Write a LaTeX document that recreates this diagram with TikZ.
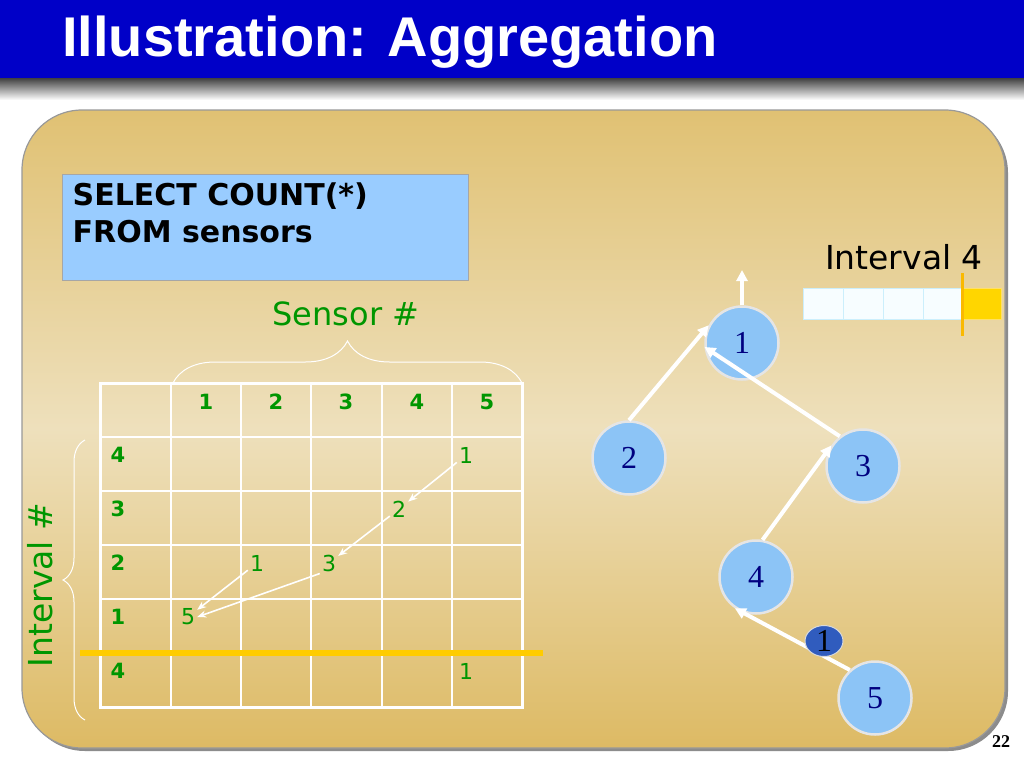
\documentclass[tikz,border=0pt]{standalone}
\usepackage{fontspec}
\usepackage{tikz}
\usetikzlibrary{arrows.meta, decorations.pathreplacing, shapes.geometric, calc}
\setmainfont{Liberation Serif}
\newfontfamily\headfont{Liberation Sans}
\newfontfamily\chalkfont{DejaVu Sans}
\definecolor{slideB}{RGB}{0,0,200}
\definecolor{slideG}{RGB}{0,150,0}
\definecolor{sqlB}{RGB}{153,204,255}
\definecolor{moteB}{RGB}{140,196,246}
\definecolor{moteT}{RGB}{0,0,128}
\definecolor{panelTop}{RGB}{224,193,115}
\definecolor{panelMid}{RGB}{238,224,188}
\definecolor{panelBot}{RGB}{221,186,100}
\definecolor{epochY}{RGB}{255,204,0}
\definecolor{epochO}{RGB}{250,185,0}
\definecolor{msgB}{RGB}{48,92,190}
\begin{document}
\begin{tikzpicture}[x=1pt, y=-1pt,
  gridline/.style={white, line width=1.4pt},
  gridouter/.style={white, line width=3pt},
  hdr/.style={slideG, font=\chalkfont\bfseries\fontsize{21}{21}\selectfont, inner sep=1pt},
  val/.style={slideG, font=\chalkfont\fontsize{22}{22}\selectfont, inner sep=2pt},
  pass/.style={-{Stealth[length=9pt, width=7pt]}, white, line width=1.6pt},
  mote/.style={circle, minimum size=73pt, inner sep=0pt, fill=moteB, draw=black!10,
    line width=2.5pt, text=moteT, font=\fontsize{32}{32}\selectfont},
  hop/.style={-{Triangle[length=11pt, width=11pt]}, white, line width=4pt},
  slot/.style={minimum width=40pt, minimum height=31pt, inner sep=0pt, fill=cyan!3,
    draw=cyan!20, line width=1pt}]
\useasboundingbox (0,0) rectangle (1024,768);
\fill[white] (0,0) rectangle (1024,768);
% title bar
\fill[slideB] (0,0) rectangle (1024,78);
\shade[top color=black!75, bottom color=white] (0,78) rectangle (1024,100);
\node[anchor=west, white, font=\headfont\bfseries\fontsize{56}{56}\selectfont, inner sep=0pt]
  (title) at (62,42) {Illustration: Aggregation};
% background panel
\fill[black!45, rounded corners=60pt] (25,113) rectangle (1008,751);
\shade[rounded corners=60pt, top color=panelTop, bottom color=panelBot, middle color=panelMid,
  draw=black!40, line width=1.2pt] (22,110) rectangle (1005,748);
% query box
\node[fill=sqlB, draw=black!35, line width=1pt, minimum width=406pt, minimum height=106pt,
  inner sep=0pt] (sql) at (265,227) {};
\node[anchor=north west, align=left, inner sep=0pt,
  font=\chalkfont\bfseries\fontsize{30}{37}\selectfont] (query) at ($(sql.north west)+(11,9)$)
  {SELECT COUNT(*)\\FROM sensors};
% table of sensor readings
\foreach \x in {171,241,311,382,452} \draw[gridline] (\x,383) -- (\x,707);
\foreach \y in {437,491,545,599,653} \draw[gridline] (100,\y) -- (522,\y);
\draw[gridouter] (100,383) rectangle (522,707);
\foreach \s/\x in {1/206,2/276,3/346,4/417,5/487}
  \node[hdr] (col\s) at (\x,402) {\s};
\foreach \r/\t/\y in {a/4/455,b/3/509,c/2/563,d/1/617,e/4/671}
  \node[hdr] (row\r) at (118,\y) {\t};
\node[val] (i4s5) at (466,455) {1};
\node[val] (i3s4) at (399,509) {2};
\node[val] (i2s2) at (257,563) {1};
\node[val] (i2s3) at (329,563) {3};
\node[val] (i1s1) at (188,617) {5};
\node[val] (nxs5) at (466,671) {1};
\draw[pass] (i4s5) -- (i3s4);
\draw[pass] (i3s4) -- (i2s3);
\draw[pass] (i2s2) -- (i1s1);
\draw[pass] (i2s3.south west) -- (i1s1.east);
% current epoch marker
\draw[epochY, line width=6pt] (80,653) -- (543,653);
% braces and axis names
\draw[white, line width=1pt, decorate, decoration={brace, amplitude=42pt}] (173,383) -- (522,383);
\draw[white, line width=1pt, decorate, decoration={brace, amplitude=22pt}] (85,720) -- (85,440);
\node[slideG, font=\chalkfont\fontsize{32}{32}\selectfont] (sensorlbl) at (346,314) {Sensor \#};
\node[slideG, rotate=90, font=\chalkfont\fontsize{33}{33}\selectfont] (intervallbl) at (40,585) {Interval \#};
% routing tree
\node[mote] (m1) at (742,343) {1};
\node[mote] (m2) at (629,458) {2};
\node[mote] (m3) at (863,466) {3};
\node[mote] (m4) at (756,577) {4};
\node[mote] (m5) at (875,698) {5};
\coordinate (sink) at (742,270);
\draw[hop] (m1.north) -- (sink);
\draw[hop] (m2.north) -- (m1.152);
\draw[hop] (m3.128) -- (m1.186);
\draw[hop] (m4.80) -- (m3.147);
\draw[hop] (m5.132) -- (m4.236);
\node[ellipse, fill=msgB, draw=black!15, line width=1pt, minimum width=38pt, minimum height=31pt,
  inner sep=0pt, font=\fontsize{32}{32}\selectfont] (msg) at (824,641) {1};
% epoch bar
\node[black, font=\chalkfont\fontsize{33}{33}\selectfont] (epochlbl) at (904,257) {Interval 4};
\foreach \i in {0,...,3}
  \node[slot] (slot\i) at (823+40*\i,303.5) {};
\node[slot, fill=epochY!80!yellow, draw=epochY!60, minimum width=39pt] (slot4) at (981.5,303.5) {};
\draw[epochO, line width=3pt] (962,273) -- (962,336);
% page number
\node[font=\bfseries\fontsize{18}{18}\selectfont] (pageno) at (1001,742) {22};
\end{tikzpicture}
\end{document}
